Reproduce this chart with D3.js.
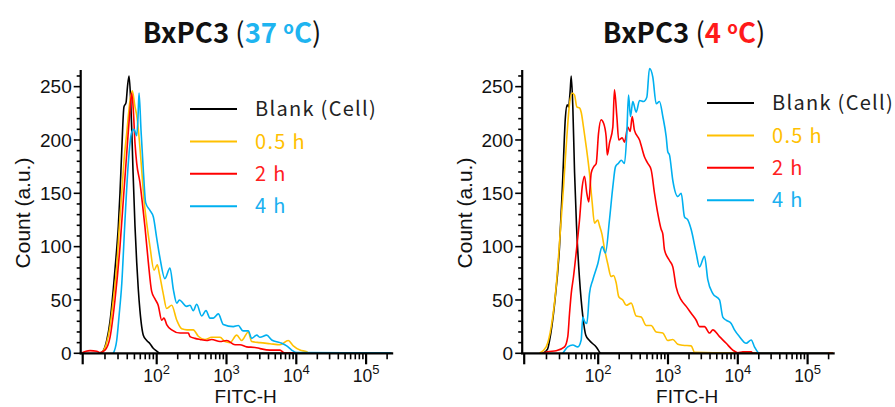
<!DOCTYPE html>
<html>
<head>
<meta charset="utf-8">
<script src="https://cdn.jsdelivr.net/npm/d3@7"></script>
<style>
  body { margin: 0; background: #fff; }
  svg { display: block; font-family: "Liberation Sans", Arial, sans-serif; }
</style>
</head>
<body>
<div id="chart"></div>
<script>
// ---- data (FITC-H intensity, count) ----
const seriesNames  = ["Blank (Cell)", "0.5 h", "2 h", "4 h"];
const seriesColors = ["#000000", "#FFC000", "#FF0000", "#00B0F0"];
const yTicks   = [0, 50, 100, 150, 200, 250];
const xMajor   = [10, 100, 1000, 10000, 100000];
const xLabels  = [null, "2", "3", "4", "5"];   // exponents of 10

// 37 °C
const blank37 = [[17.1,0],[18.8,2],[21.1,12],[23.4,30],[25.9,60],[28.2,90],[30.3,119],[31.9,150],[33.7,190],[36.1,231],[38.5,235],[40.3,250],[42.3,260],[44.3,240],[45.9,212],[47.9,170],[50.9,119],[53.7,85],[56.4,60],[59.4,40],[62.7,25],[65.9,17],[73.3,12],[81.1,9],[89.1,5],[100,2],[111,0],[230000,0]];
const h05_37 = [[18.1,0],[20.7,8],[23.4,25],[25.9,50],[28.8,81],[31,115],[33.7,150],[36.1,180],[39.3,206],[43.6,237],[46.8,246],[50.9,231],[53.7,223],[58.2,200],[62.7,172],[67.3,144],[73.3,122],[81.1,100],[92,78],[102,83],[109,75],[124,56],[139,42],[164,45],[194,31],[228,23],[272,22],[334,22],[394,16],[492,13],[614,15],[807,15],[951,11],[1122,10],[1400,17],[1651,12],[2052,20],[2296,11],[3020,10],[4198,9],[5845,8],[7674,12],[9057,7],[11300,3],[14090,1.5],[14860,0],[230000,0]];
const h2_37 = [[9.5,0],[11.1,2],[12.6,2.5],[15.5,2],[17.1,0.6],[20,3],[23.4,15],[27.3,50],[31.9,100],[35.4,144],[39.3,187],[43.6,228],[45.9,244],[48.3,228],[50.9,197],[53.7,178],[59.4,160],[64.7,138],[69.5,118],[76.9,86],[85.5,58],[94.8,51],[105,45],[118,31],[127,33],[139,27],[164,22],[216,19],[284,19],[300,15.6],[354,14],[417,13],[520,12],[614,13],[807,11],[1007,12],[1324,8],[1560,8],[1945,6],[2559,5.5],[3020,4.4],[4198,3],[5845,3],[6670,0.5],[230000,0]];
const h4_37 = [[25.9,0],[28.8,12],[31,35],[33.7,65],[37.3,125],[41.3,178],[45.9,207],[49.3,210],[53.7,204],[55.8,220],[57.7,244],[61.4,209],[65.9,172],[71,141],[81.1,134],[90,128],[100,108],[111,90],[131,70],[155,80],[173,60],[194,47],[211,50],[269,44],[300,45],[334,40],[374,46],[441,35],[508,40],[580,33],[647,33],[764,37],[900,27],[1250,25],[1476,26],[1722,21],[2052,21],[2296,14],[2710,17],[3020,15],[3767,17],[4447,12.5],[5845,10],[7278,7],[8590,3],[10140,0.6],[230000,0.5]];

// 4 °C
const blank4 = [[17.8,0],[20.7,4],[22,12],[25.6,45],[30,100],[33,160],[36.1,222],[38.1,233],[39.7,231],[41.9,247],[43.2,260],[45.4,231],[47.9,170],[50.9,120],[55.9,70],[61.9,35],[68,17],[76.2,12],[94,6],[110,0],[230000,0]];
const h05_4 = [[16.1,0],[19.8,6],[23.2,25],[27,62],[30.6,112],[34,156],[37.7,203],[41,234],[44.6,244],[47.9,242],[51.4,231],[55.9,230],[58.9,226],[63.3,212],[68.8,194],[76.2,169],[83,141],[89.1,122],[98.8,125],[104,120],[113,112],[123,98],[137,84],[153,72],[166,73],[181,66],[197,53],[225,50],[252,45],[297,47],[350,35],[413,34],[487,26],[574,26],[678,20],[843,19],[993,12],[1172,13],[1381,8.5],[1630,7.5],[2148,7],[2398,1],[8395,0.5],[230000,0.5]];
const h2_4 = [[17.8,0],[20.8,1.5],[27,2.4],[35.1,6],[38.8,15.6],[41,37.5],[43.2,56],[46.4,72],[51.4,100],[55.9,125],[60.8,156],[65.3,166],[70.2,150],[74.6,142],[80.4,169],[87.2,175],[94,178],[101,206],[110,219],[119,216],[130,203],[135,186],[145,197],[162,212],[171,247],[185,222],[197,200],[221,202],[238,198],[266,212],[287,208],[307,222],[331,209],[391,200],[461,184],[514,178],[574,172],[641,150],[715,131],[800,116],[842,112],[891,97],[1050,87],[1172,81],[1310,62],[1545,50],[1823,44],[2148,37.5],[2535,31],[2826,25],[3335,25],[3935,19],[4390,22],[5470,15.6],[6820,9.4],[8480,3],[10000,0.5],[11800,1.5],[15560,1.5],[16400,0],[230000,0]];
const h4_4 = [[33.3,0],[38.8,6],[45.4,7.8],[53,6],[58.9,12.5],[61.9,34],[65.3,30],[70.2,28],[76.2,56],[84.6,69],[98.8,84],[114,100],[127,94],[145,125],[162,156],[177,175],[194,178],[214,181],[238,178],[257,206],[272,242],[290,222],[313,236],[350,226],[391,237],[446,236],[497,240],[543,267],[606,259],[678,234],[755,236],[843,222],[942,203],[993,189],[1050,186],[1172,162],[1381,147],[1545,150],[1722,128],[1922,125],[2148,116],[2535,94],[2826,81],[3335,91],[3716,69],[4390,56],[5470,50],[6100,34],[6820,31],[8040,28],[8970,22],[10570,15.6],[13180,9.4],[15560,12.5],[17340,6],[20460,0],[200000,0]];

const panels = [
  { left: 80.7,  temp: "37", tempColor: "#1EB4F0", series: [blank37, h05_37, h2_37, h4_37],
    legendX: 190, legendY: 109, titleX: 232 },
  { left: 522.2, temp: "4",  tempColor: "#FF1A1A", series: [blank4, h05_4, h2_4, h4_4],
    legendX: 707, legendY: 103, titleX: 684 }
];

// ---- layout ----
const W = 895, H = 407;
const plotTop = 70, plotH = 283.3, plotW = 312.5, yMax = 265.6;

const svg = d3.select("#chart").append("svg")
  .attr("width", W).attr("height", H)
  .attr("viewBox", [0, 0, W, H]);

const legendColors = ["#222222", "#FFC000", "#FF2020", "#1AB0F0"];

panels.forEach(p => {
  const g = svg.append("g").attr("transform", `translate(${p.left},${plotTop})`);

  // log axis, first decade drawn slightly wider as in the cytometer export
  const x = d3.scaleLog().domain([10, 100, 100000]).range([2, 76, 285.4]);
  const y = d3.scaleLinear().domain([0, yMax]).range([plotH, 0]);

  const line = d3.line()
    .x(d => x(d[0]))
    .y(d => y(d[1]))
    .curve(d3.curveMonotoneX);

  g.append("g")
    .selectAll("path")
    .data(p.series)
    .join("path")
    .attr("fill", "none")
    .attr("stroke", (d, i) => seriesColors[i])
    .attr("stroke-width", 1.6)
    .attr("stroke-linejoin", "round")
    .attr("d", line);

  // y axis
  const yMinor = d3.range(0, 261, 10);
  g.append("g").selectAll("line").data(yMinor).join("line")
    .attr("x1", d => yTicks.includes(d) ? -7 : -4).attr("x2", 0)
    .attr("y1", d => y(d)).attr("y2", d => y(d))
    .attr("stroke", "#000").attr("stroke-width", 1.6);
  g.append("line").attr("x1", 0).attr("x2", 0).attr("y1", 0).attr("y2", plotH + 1)
    .attr("stroke", "#000").attr("stroke-width", 2.2);
  g.append("g").selectAll("text").data(yTicks).join("text")
    .attr("x", -9).attr("y", d => y(d)).attr("dy", "0.36em")
    .attr("text-anchor", "end").attr("font-size", 19).attr("fill", "#111")
    .text(d => d);

  // x axis
  const minor = [];
  [10, 100, 1000, 10000].forEach(dec => { for (let k = 2; k <= 9; k++) minor.push(k * dec); });
  minor.push(200000);
  g.append("g").selectAll("line").data(minor).join("line")
    .attr("x1", d => x(d)).attr("x2", d => x(d))
    .attr("y1", plotH).attr("y2", plotH + 6)
    .attr("stroke", "#000").attr("stroke-width", 1.6);
  g.append("g").selectAll("line").data(xMajor).join("line")
    .attr("x1", d => x(d)).attr("x2", d => x(d))
    .attr("y1", plotH).attr("y2", plotH + 11)
    .attr("stroke", "#000").attr("stroke-width", 2.2);
  g.append("line").attr("x1", -1).attr("x2", plotW).attr("y1", plotH).attr("y2", plotH)
    .attr("stroke", "#000").attr("stroke-width", 2.2);
  const lab = g.append("g").selectAll("text")
    .data(xMajor.map((v, i) => ({ v, e: xLabels[i] })).filter(d => d.e))
    .join("text")
    .attr("x", d => x(d.v)).attr("y", 382 - plotTop)
    .attr("text-anchor", "middle").attr("font-size", 17.5).attr("fill", "#111");
  lab.append("tspan").text("10");
  lab.append("tspan").attr("dy", -8).attr("font-size", 13).text(d => d.e);

  g.append("text")
    .attr("x", 165).attr("y", 402.5 - plotTop)
    .attr("text-anchor", "middle").attr("font-size", 19).attr("fill", "#111")
    .text("FITC-H");
  g.append("text")
    .attr("transform", `translate(-58,${213 - plotTop}) rotate(-90)`)
    .attr("text-anchor", "middle").attr("font-size", 21).attr("fill", "#111")
    .attr("dy", "0.35em")
    .text("Count (a.u.)");

  // legend
  const lg = svg.append("g").attr("transform", `translate(${p.legendX},${p.legendY})`);
  const items = lg.selectAll("g").data(seriesNames).join("g")
    .attr("transform", (d, i) => `translate(0,${i * 32.4})`);
  items.append("line").attr("x1", 0).attr("x2", 47)
    .attr("stroke", (d, i) => seriesColors[i]).attr("stroke-width", 2);
  items.append("text")
    .attr("x", 65).attr("dy", "0.36em")
    .attr("font-family", "'Noto Sans CJK JP', 'Noto Sans', sans-serif")
    .attr("font-size", 20).attr("letter-spacing", 1.3)
    .attr("fill", (d, i) => legendColors[i])
    .text(d => d);

  // title
  const t = svg.append("text")
    .attr("x", p.titleX).attr("y", 43)
    .attr("text-anchor", "middle")
    .attr("font-family", "'Noto Sans CJK JP', 'Noto Sans', sans-serif")
    .attr("font-size", 27.5).attr("font-weight", 700).attr("fill", "#111");
  t.append("tspan").text("BxPC3 ");
  t.append("tspan").attr("font-weight", 400).text("(");
  t.append("tspan").attr("fill", p.tempColor).text(p.temp + " ");
  t.append("tspan").attr("fill", p.tempColor).attr("font-size", 17).attr("dy", -9).text("o");
  t.append("tspan").attr("fill", p.tempColor).attr("dy", 9).text("C");
  t.append("tspan").attr("font-weight", 400).text(")");
});
</script>
</body>
</html>
